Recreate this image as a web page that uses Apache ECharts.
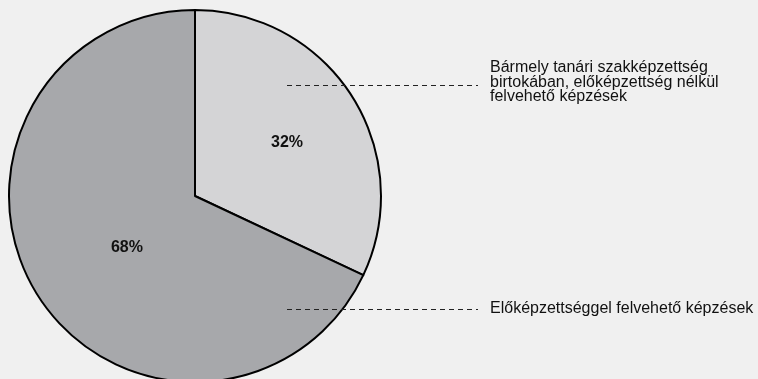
<!DOCTYPE html>
<html><head><meta charset="utf-8">
<script src="https://cdn.jsdelivr.net/npm/echarts@6/dist/echarts.min.js"></script>
<style>html,body{margin:0;padding:0;background:#f0f0f0;}#c{width:758px;height:379px;}</style>
</head><body><div id="c"></div>
<script>
var categories = ['Bármely tanári szakképzettség\nbirtokában, előképzettség nélkül\nfelvehető képzések', 'Előképzettséggel felvehető képzések'];
var values = [32, 68];
var colors = ['#d4d4d6', '#a7a8ab'];
var FONT = '"Liberation Sans", Arial, sans-serif';

var chart = echarts.init(document.getElementById('c'));
var cx = 195, cy = 196, R = 186;
chart.setOption({
  backgroundColor: '#f0f0f0',
  animation: false,
  series: [{
    type: 'pie',
    center: [cx, cy],
    radius: [0, R],
    startAngle: 90,
    clockwise: true,
    silent: true,
    data: categories.map(function (n, i) { return { name: n, value: values[i], itemStyle: { color: colors[i] } }; }),
    itemStyle: { borderColor: '#000', borderWidth: 2 },
    label: {
      position: 'inside',
      formatter: '{c}%',
      fontFamily: FONT,
      fontWeight: 'bold',
      fontSize: 16,
      color: '#111'
    },
    labelLine: { show: false },
    labelLayout: function (p) {
      return p.dataIndex === 0 ? { dx: 11, dy: -2 } : { dx: 13, dy: 0 };
    }
  }],
  graphic: [
    { type: 'line', z: 100, shape: { x1: 287, y1: 85.5, x2: 478, y2: 85.5 }, style: { stroke: '#222', lineWidth: 1, lineDash: [5, 4] } },
    { type: 'line', z: 100, shape: { x1: 287, y1: 309.5, x2: 478, y2: 309.5 }, style: { stroke: '#222', lineWidth: 1, lineDash: [5, 4] } },
    { type: 'text', z: 100, left: 490, top: 60, style: { text: categories[0], font: '16px ' + FONT, fill: '#111', lineHeight: 14.5 } },
    { type: 'text', z: 100, left: 490, top: 301, style: { text: categories[1], font: '16px ' + FONT, fill: '#111', lineHeight: 14.5 } }
  ]
});
</script></body></html>
